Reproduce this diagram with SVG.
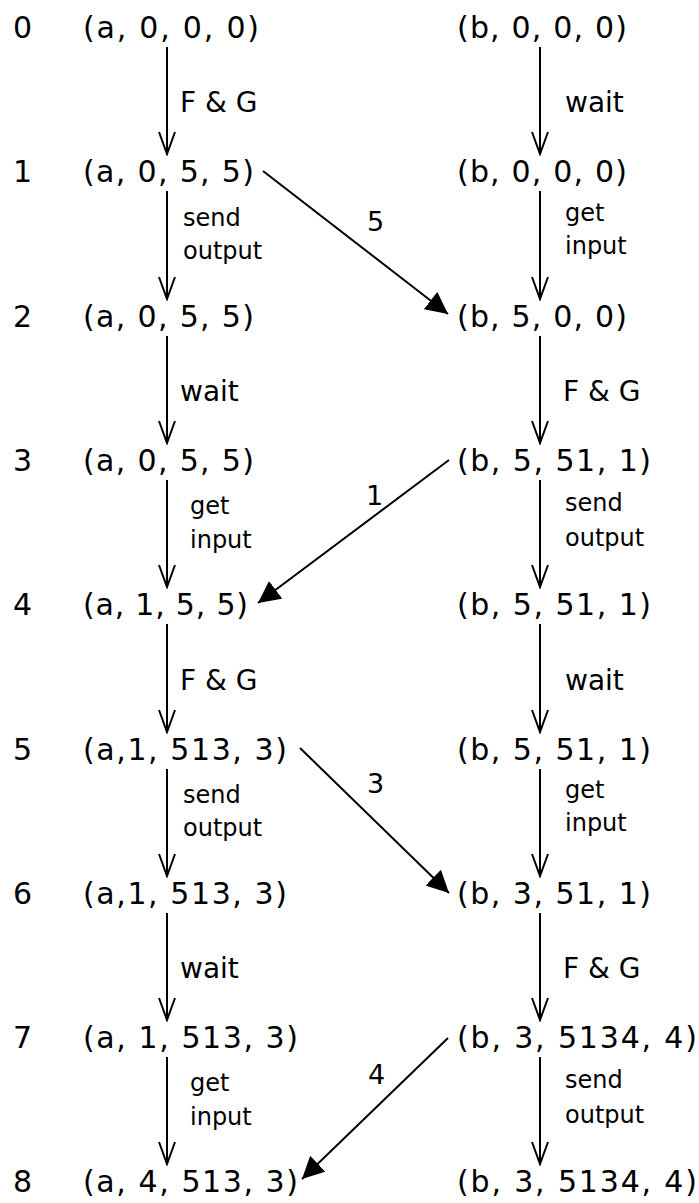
<svg xmlns="http://www.w3.org/2000/svg" width="699" height="1203" viewBox="0 0 699 1203">
<style>
text{font-family:"DejaVu Sans","Liberation Sans",sans-serif;fill:#000}
.n{font-size:30px}
.l{font-size:28px}
.s{font-size:24px}
.d{font-size:27px}
.v{stroke:#000;stroke-width:2;fill:none;marker-end:url(#open)}
.x{stroke:#000;stroke-width:2;fill:none;marker-end:url(#solid)}
</style>
<defs>
<marker id="open" markerUnits="userSpaceOnUse" viewBox="-1 -1 25 20" refX="22" refY="9" markerWidth="25" markerHeight="20" orient="auto"><path d="M0,1 L22,9 L0,17" fill="none" stroke="#000" stroke-width="2"/></marker>
<marker id="solid" markerUnits="userSpaceOnUse" viewBox="0 0 23 22" refX="22" refY="11" markerWidth="23" markerHeight="22" orient="auto"><path d="M0,0 L22,11 L0,22 z" fill="#000"/></marker>
</defs>
<g id="row-labels">
<text class="n" x="13" y="38">0</text>
<text class="n" x="13" y="182">1</text>
<text class="n" x="13" y="327">2</text>
<text class="n" x="13" y="471">3</text>
<text class="n" x="13" y="615">4</text>
<text class="n" x="13" y="760">5</text>
<text class="n" x="13" y="904">6</text>
<text class="n" x="13" y="1048">7</text>
<text class="n" x="13" y="1192">8</text>
</g>
<g id="a0"><text class="n" x="83" y="38" textLength="176" lengthAdjust="spacing">(a, 0, 0, 0)</text></g>
<g id="a1"><text class="n" x="83" y="182" textLength="171" lengthAdjust="spacing">(a, 0, 5, 5)</text></g>
<g id="a2"><text class="n" x="83" y="327" textLength="171" lengthAdjust="spacing">(a, 0, 5, 5)</text></g>
<g id="a3"><text class="n" x="83" y="471" textLength="171" lengthAdjust="spacing">(a, 0, 5, 5)</text></g>
<g id="a4"><text class="n" x="83" y="615" textLength="165" lengthAdjust="spacing">(a, 1, 5, 5)</text></g>
<g id="a5"><text class="n" x="83" y="760" textLength="204" lengthAdjust="spacing">(a,1, 513, 3)</text></g>
<g id="a6"><text class="n" x="83" y="904" textLength="204" lengthAdjust="spacing">(a,1, 513, 3)</text></g>
<g id="a7"><text class="n" x="83" y="1048" textLength="215" lengthAdjust="spacing">(a, 1, 513, 3)</text></g>
<g id="a8"><text class="n" x="83" y="1192" textLength="215" lengthAdjust="spacing">(a, 4, 513, 3)</text></g>
<g id="b0"><text class="n" x="457" y="38" textLength="170" lengthAdjust="spacing">(b, 0, 0, 0)</text></g>
<g id="b1"><text class="n" x="457" y="182" textLength="170" lengthAdjust="spacing">(b, 0, 0, 0)</text></g>
<g id="b2"><text class="n" x="457" y="327" textLength="170" lengthAdjust="spacing">(b, 5, 0, 0)</text></g>
<g id="b3"><text class="n" x="457" y="471" textLength="194" lengthAdjust="spacing">(b, 5, 51, 1)</text></g>
<g id="b4"><text class="n" x="457" y="615" textLength="194" lengthAdjust="spacing">(b, 5, 51, 1)</text></g>
<g id="b5"><text class="n" x="457" y="760" textLength="194" lengthAdjust="spacing">(b, 5, 51, 1)</text></g>
<g id="b6"><text class="n" x="457" y="904" textLength="194" lengthAdjust="spacing">(b, 3, 51, 1)</text></g>
<g id="b7"><text class="n" x="457" y="1048" textLength="240" lengthAdjust="spacing">(b, 3, 5134, 4)</text></g>
<g id="b8"><text class="n" x="457" y="1192" textLength="240" lengthAdjust="spacing">(b, 3, 5134, 4)</text></g>
<g id="connectors">
<line class="v" x1="167" y1="47" x2="167" y2="154"/>
<line class="v" x1="167" y1="191" x2="167" y2="299"/>
<line class="v" x1="167" y1="336" x2="167" y2="443"/>
<line class="v" x1="167" y1="480" x2="167" y2="587"/>
<line class="v" x1="167" y1="624" x2="167" y2="732"/>
<line class="v" x1="167" y1="769" x2="167" y2="876"/>
<line class="v" x1="167" y1="913" x2="167" y2="1020"/>
<line class="v" x1="167" y1="1057" x2="167" y2="1164"/>
<line class="v" x1="540" y1="47" x2="540" y2="154"/>
<line class="v" x1="540" y1="191" x2="540" y2="299"/>
<line class="v" x1="540" y1="336" x2="540" y2="443"/>
<line class="v" x1="540" y1="480" x2="540" y2="587"/>
<line class="v" x1="540" y1="624" x2="540" y2="732"/>
<line class="v" x1="540" y1="769" x2="540" y2="876"/>
<line class="v" x1="540" y1="913" x2="540" y2="1020"/>
<line class="v" x1="540" y1="1057" x2="540" y2="1164"/>
<line class="x" x1="263" y1="171" x2="448" y2="314"/>
<line class="x" x1="449" y1="460" x2="258" y2="603"/>
<line class="x" x1="300" y1="748" x2="449" y2="893"/>
<line class="x" x1="448" y1="1038" x2="302" y2="1179"/>
<text class="d" x="367" y="231">5</text>
<text class="d" x="366" y="505">1</text>
<text class="d" x="367" y="793">3</text>
<text class="d" x="368" y="1084">4</text>
<text class="l" x="180" y="112">F &amp; G</text>
<text class="s" x="183" y="226">send</text>
<text class="s" x="183" y="259">output</text>
<text class="l" x="180" y="401">wait</text>
<text class="s" x="190" y="514">get</text>
<text class="s" x="190" y="548">input</text>
<text class="l" x="180" y="690">F &amp; G</text>
<text class="s" x="183" y="803">send</text>
<text class="s" x="183" y="836">output</text>
<text class="l" x="180" y="978">wait</text>
<text class="s" x="190" y="1091">get</text>
<text class="s" x="190" y="1125">input</text>
<text class="l" x="565" y="112">wait</text>
<text class="s" x="565" y="221">get</text>
<text class="s" x="565" y="254">input</text>
<text class="l" x="563" y="401">F &amp; G</text>
<text class="s" x="565" y="511">send</text>
<text class="s" x="565" y="546">output</text>
<text class="l" x="565" y="690">wait</text>
<text class="s" x="565" y="798">get</text>
<text class="s" x="565" y="831">input</text>
<text class="l" x="563" y="978">F &amp; G</text>
<text class="s" x="565" y="1088">send</text>
<text class="s" x="565" y="1123">output</text>
</g>
</svg>
